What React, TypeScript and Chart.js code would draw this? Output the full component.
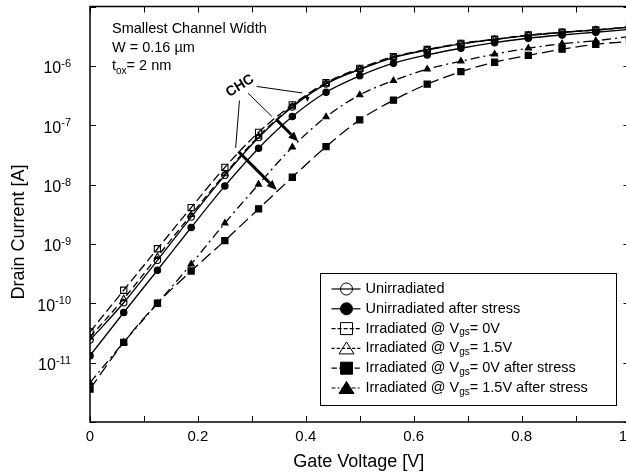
import React, { useEffect, useRef } from 'react';
import { Chart, registerables } from 'chart.js';

Chart.register(...registerables);

// ---- data ----
const gateVoltage = [0, 0.0625, 0.125, 0.1875, 0.25, 0.3125, 0.375, 0.4375, 0.5, 0.5625, 0.625, 0.6875, 0.75, 0.8125, 0.875, 0.9375, 1];
const unirradiated = [2.4e-11, 1.02e-10, 5.3e-10, 2.83e-9, 1.43e-8, 6.2e-8, 2.03e-7, 4.96e-7, 8.7e-7, 1.38e-6, 1.85e-6, 2.34e-6, 2.78e-6, 3.25e-6, 3.65e-6, 4.02e-6, 4.5e-6];
const unirradiatedStress = [1.31e-11, 7.0e-11, 3.6e-10, 1.89e-9, 9.5e-9, 4.1e-8, 1.4e-7, 3.6e-7, 6.8e-7, 1.11e-6, 1.53e-6, 1.98e-6, 2.46e-6, 2.92e-6, 3.31e-6, 3.68e-6, 4.13e-6];
const irradiated0V = [3.3e-11, 1.66e-10, 8.3e-10, 4.1e-9, 1.95e-8, 7.6e-8, 2.2e-7, 5.2e-7, 9.1e-7, 1.43e-6, 1.89e-6, 2.4e-6, 2.81e-6, 3.31e-6, 3.68e-6, 4.02e-6, 4.52e-6];
const irradiated15V = [2.7e-11, 1.19e-10, 6.1e-10, 3.1e-9, 1.51e-8, 6.5e-8, 2.1e-7, 5.0e-7, 8.8e-7, 1.39e-6, 1.86e-6, 2.35e-6, 2.79e-6, 3.27e-6, 3.66e-6, 4.02e-6, 4.5e-6];
const irradiated0VStress = [3.6e-12, 2.2e-11, 1.0e-10, 3.5e-10, 1.14e-9, 3.9e-9, 1.33e-8, 4.36e-8, 1.23e-7, 2.64e-7, 4.92e-7, 7.98e-7, 1.15e-6, 1.5e-6, 1.91e-6, 2.31e-6, 2.58e-6];
const irradiated15VStress = [4.6e-12, 2.2e-11, 1.0e-10, 4.57e-10, 2.24e-9, 1.01e-8, 4.26e-8, 1.38e-7, 3.24e-7, 5.64e-7, 8.77e-7, 1.2e-6, 1.57e-6, 1.98e-6, 2.36e-6, 2.65e-6, 3.13e-6];

const xLabelValues = [0, 0.2, 0.4, 0.6, 0.8, 1];
const xTickLabels = ['0', '0.2', '0.4', '0.6', '0.8', '1'];
const xMinorTicks = [0, 0.1, 0.2, 0.3, 0.4, 0.5, 0.6, 0.7, 0.8, 0.9, 1];
const yDecades = [1e-12, 1e-11, 1e-10, 1e-9, 1e-8, 1e-7, 1e-6, 1e-5];
const yLabelValues = [1e-6, 1e-7, 1e-8, 1e-9, 1e-10, 1e-11];
const yLabelExponents = ['-6', '-7', '-8', '-9', '-10', '-11'];

const xTitle = 'Gate Voltage [V]';
const yTitle = 'Drain Current [A]';
const infoLines = ['Smallest Channel Width', 'W = 0.16 \u00b5m'];

// CHC annotation anchors in data coordinates [x, current]
const chcLabelPos = [0.278, 4.6e-7];
const chcLeaders = [
  [0.309, 4.5e-7, 0.393, 3.5e-7],
  [0.293, 3.46e-7, 0.337, 1.41e-7],
  [0.277, 2.6e-7, 0.27, 4.15e-8],
];
const chcArrows = [
  [0.346, 1.23e-7, 0.386, 5.3e-8],
  [0.275, 3.6e-8, 0.346, 8.1e-9],
];
const chcSmallArrow = [0.403, 3.1e-7, 0.403, 2.45e-7];

type Shape = 'circle' | 'rect' | 'triangle';
interface Series {
  label: string;
  legend: [string, string, string];
  data: number[];
  shape: Shape;
  filled: boolean;
  dash: number[];
  radius: number;
}

const series: Series[] = [
  { label: 'Unirradiated', legend: ['Unirradiated', '', ''], data: unirradiated, shape: 'circle', filled: false, dash: [], radius: 3.2 },
  { label: 'Unirradiated after stress', legend: ['Unirradiated after stress', '', ''], data: unirradiatedStress, shape: 'circle', filled: true, dash: [], radius: 3.2 },
  { label: 'Irradiated @ Vgs= 0V', legend: ['Irradiated @ V', 'gs', '= 0V'], data: irradiated0V, shape: 'rect', filled: false, dash: [9, 4], radius: 4.4 },
  { label: 'Irradiated @ Vgs= 1.5V', legend: ['Irradiated @ V', 'gs', '= 1.5V'], data: irradiated15V, shape: 'triangle', filled: false, dash: [7, 4], radius: 3.6 },
  { label: 'Irradiated @ Vgs= 0V after stress', legend: ['Irradiated @ V', 'gs', '= 0V after stress'], data: irradiated0VStress, shape: 'rect', filled: true, dash: [12, 5], radius: 4.4 },
  { label: 'Irradiated @ Vgs= 1.5V after stress', legend: ['Irradiated @ V', 'gs', '= 1.5V after stress'], data: irradiated15VStress, shape: 'triangle', filled: true, dash: [9, 4, 2, 4], radius: 3.6 },
];

const FONT = '"Liberation Sans", Arial, Helvetica, sans-serif';
const VIEW_WIDTH = 626;

function drawMarker(ctx: CanvasRenderingContext2D, shape: Shape, x: number, y: number, r: number, filled: boolean) {
  ctx.save();
  ctx.setLineDash([]);
  ctx.beginPath();
  if (shape === 'circle') {
    ctx.arc(x, y, r, 0, Math.PI * 2);
  } else if (shape === 'rect') {
    ctx.rect(x - r, y - r, 2 * r, 2 * r);
  } else {
    ctx.moveTo(x, y - r);
    ctx.lineTo(x + r * 0.866 * 1.15, y + r * 0.6);
    ctx.lineTo(x - r * 0.866 * 1.15, y + r * 0.6);
    ctx.closePath();
  }
  ctx.lineWidth = 1;
  ctx.strokeStyle = '#000';
  if (filled) {
    ctx.fillStyle = '#000';
    ctx.fill();
  }
  ctx.stroke();
  ctx.restore();
}

function drawArrow(ctx: CanvasRenderingContext2D, x1: number, y1: number, x2: number, y2: number, w: number, head: number) {
  const ang = Math.atan2(y2 - y1, x2 - x1);
  const bx = x2 - head * Math.cos(ang);
  const by = y2 - head * Math.sin(ang);
  ctx.lineWidth = w;
  ctx.beginPath();
  ctx.moveTo(x1, y1);
  ctx.lineTo(bx, by);
  ctx.stroke();
  const hw = head * 0.42;
  ctx.beginPath();
  ctx.moveTo(x2, y2);
  ctx.lineTo(bx + hw * Math.sin(ang), by - hw * Math.cos(ang));
  ctx.lineTo(bx - hw * Math.sin(ang), by + hw * Math.cos(ang));
  ctx.closePath();
  ctx.fill();
}

function textWithSub(ctx: CanvasRenderingContext2D, parts: [string, string, string], x: number, y: number, size: number, subSize: number, subDrop: number) {
  ctx.font = `${size}px ${FONT}`;
  ctx.fillText(parts[0], x, y);
  let cx = x + ctx.measureText(parts[0]).width;
  if (parts[1]) {
    ctx.font = `${subSize}px ${FONT}`;
    ctx.fillText(parts[1], cx, y + subDrop);
    cx += ctx.measureText(parts[1]).width;
  }
  if (parts[2]) {
    ctx.font = `${size}px ${FONT}`;
    ctx.fillText(parts[2], cx, y);
  }
}

const overlayPlugin = {
  id: 'overlay',
  afterDraw(chart: any) {
    const { ctx, chartArea: a, scales } = chart;
    const xs = scales.x;
    const ys = scales.y;
    const P = (x: number, y: number) => [xs.getPixelForValue(x), ys.getPixelForValue(y)];
    ctx.save();
    ctx.strokeStyle = '#000';
    ctx.fillStyle = '#000';
    ctx.setLineDash([]);

    // frame
    ctx.lineWidth = 1.5;
    ctx.strokeRect(a.left, a.top, a.right - a.left, a.bottom - a.top);

    // inward ticks
    ctx.lineWidth = 1;
    ctx.beginPath();
    xMinorTicks.forEach((v) => {
      const px = Math.round(xs.getPixelForValue(v)) + 0.5;
      ctx.moveTo(px, a.bottom);
      ctx.lineTo(px, a.bottom - 6);
      ctx.moveTo(px, a.top);
      ctx.lineTo(px, a.top + 6);
    });
    yDecades.forEach((v) => {
      const py = Math.round(ys.getPixelForValue(v)) + 0.5;
      ctx.moveTo(a.left, py);
      ctx.lineTo(a.left + 6, py);
      ctx.moveTo(a.right, py);
      ctx.lineTo(a.right - 6, py);
    });
    ctx.stroke();

    // x tick labels (last one kept inside the visible page)
    ctx.font = `15px ${FONT}`;
    ctx.textAlign = 'center';
    ctx.textBaseline = 'middle';
    xLabelValues.forEach((v, i) => {
      const txt = xTickLabels[i];
      const half = ctx.measureText(txt).width / 2;
      const px = Math.min(xs.getPixelForValue(v), VIEW_WIDTH - half + 1);
      ctx.fillText(txt, px, a.bottom + 15);
    });

    // y tick labels with superscript exponent
    ctx.textAlign = 'left';
    ctx.textBaseline = 'alphabetic';
    yLabelValues.forEach((v, i) => {
      const py = ys.getPixelForValue(v);
      const exp = yLabelExponents[i];
      ctx.font = `11px ${FONT}`;
      const ew = ctx.measureText(exp).width;
      ctx.font = `16px ${FONT}`;
      const bw = ctx.measureText('10').width;
      const right = a.left - 19;
      const bx = right - ew - bw;
      ctx.fillText('10', bx, py + 7.5);
      ctx.font = `11px ${FONT}`;
      ctx.fillText(exp, bx + bw, py + 1);
    });

    // axis titles
    ctx.font = `18px ${FONT}`;
    ctx.textAlign = 'center';
    ctx.textBaseline = 'middle';
    ctx.fillText(xTitle, (a.left + a.right) / 2 - 1, 462);
    ctx.save();
    ctx.translate(19, 232);
    ctx.rotate(-Math.PI / 2);
    ctx.fillText(yTitle, 0, 0);
    ctx.restore();

    // info text block
    ctx.textAlign = 'left';
    ctx.textBaseline = 'alphabetic';
    ctx.font = `14.5px ${FONT}`;
    ctx.fillText(infoLines[0], a.left + 22, a.top + 26.5);
    ctx.fillText(infoLines[1], a.left + 22, a.top + 45);
    textWithSub(ctx, ['t', 'ox', '= 2 nm'], a.left + 22, a.top + 63.5, 14.5, 10, 3.5);

    // CHC annotation
    ctx.lineWidth = 1;
    chcLeaders.forEach((l) => {
      const [x1, y1] = P(l[0], l[1]);
      const [x2, y2] = P(l[2], l[3]);
      ctx.beginPath();
      ctx.moveTo(x1, y1);
      ctx.lineTo(x2, y2);
      ctx.stroke();
    });
    chcArrows.forEach((l) => {
      const [x1, y1] = P(l[0], l[1]);
      const [x2, y2] = P(l[2], l[3]);
      drawArrow(ctx, x1, y1, x2, y2, 3, 10);
    });
    {
      const [x1, y1] = P(chcSmallArrow[0], chcSmallArrow[1]);
      const [x2, y2] = P(chcSmallArrow[2], chcSmallArrow[3]);
      drawArrow(ctx, x1, y1, x2, y2, 1, 5);
    }
    {
      const [cx, cy] = P(chcLabelPos[0], chcLabelPos[1]);
      ctx.save();
      ctx.translate(cx, cy);
      ctx.rotate((-32 * Math.PI) / 180);
      ctx.font = `bold 14px ${FONT}`;
      ctx.textAlign = 'center';
      ctx.textBaseline = 'middle';
      ctx.fillText('CHC', 0, 0);
      ctx.restore();
    }

    // legend
    const lx = 320.5;
    const ly = 273.5;
    ctx.fillStyle = '#fff';
    ctx.fillRect(lx, ly, 296, 132);
    ctx.lineWidth = 1;
    ctx.strokeStyle = '#000';
    ctx.strokeRect(lx, ly, 296, 132);
    ctx.fillStyle = '#000';
    series.forEach((s, i) => {
      const ry = 289 + i * 19.8;
      ctx.save();
      ctx.lineWidth = 1.2;
      ctx.setLineDash(s.dash.map((d) => Math.max(2, d * 0.45)));
      ctx.beginPath();
      ctx.moveTo(lx + 11, ry);
      ctx.lineTo(lx + 40, ry);
      ctx.stroke();
      ctx.restore();
      const mr = s.shape === 'triangle' ? 7.5 : 6;
      drawMarker(ctx, s.shape, lx + 26, ry + (s.shape === 'triangle' ? 1 : 0), mr, s.filled);
      ctx.textAlign = 'left';
      ctx.textBaseline = 'middle';
      ctx.fillStyle = '#000';
      textWithSub(ctx, s.legend, lx + 45, ry, 14.5, 10, 4);
    });

    ctx.restore();
  },
};

export default function App() {
  const canvasRef = useRef<HTMLCanvasElement | null>(null);

  useEffect(() => {
    const canvas = canvasRef.current;
    if (!canvas) return;
    const chart = new Chart(canvas, {
      type: 'line',
      data: {
        datasets: series.map((s) => ({
          label: s.label,
          data: s.data.map((v, i) => ({ x: gateVoltage[i], y: v })),
          borderColor: '#000',
          borderWidth: 1.3,
          borderDash: s.dash,
          pointStyle: s.shape,
          pointRadius: s.radius,
          pointBackgroundColor: s.filled ? '#000' : 'rgba(0,0,0,0)',
          pointBorderColor: '#000',
          pointBorderWidth: 1.1,
          cubicInterpolationMode: 'monotone',
          fill: false,
        })),
      },
      options: {
        animation: false,
        responsive: false,
        devicePixelRatio: 1,
        events: [],
        layout: { padding: { left: 0, right: 10.5, top: 6.5, bottom: 0 } },
        plugins: {
          legend: { display: false },
          tooltip: { enabled: false },
          title: { display: false },
        },
        scales: {
          x: {
            type: 'linear',
            min: 0,
            max: 1,
            afterFit: (s: any) => {
              s.height = 54;
            },
            grid: { display: false, drawTicks: false },
            border: { display: false },
            ticks: { display: false, stepSize: 0.1 },
          },
          y: {
            type: 'logarithmic',
            min: 1e-12,
            max: 1e-5,
            afterFit: (s: any) => {
              s.width = 90;
            },
            grid: { display: false, drawTicks: false },
            border: { display: false },
            ticks: { display: false },
          },
        },
      },
      plugins: [overlayPlugin],
    } as any);
    return () => chart.destroy();
  }, []);

  return (
    <div style={{ position: 'fixed', left: 0, top: 0, width: 626, height: 476, overflow: 'hidden', background: '#fff' }}>
      <canvas ref={canvasRef} width={640} height={476} style={{ display: 'block', width: 640, height: 476 }} />
    </div>
  );
}
